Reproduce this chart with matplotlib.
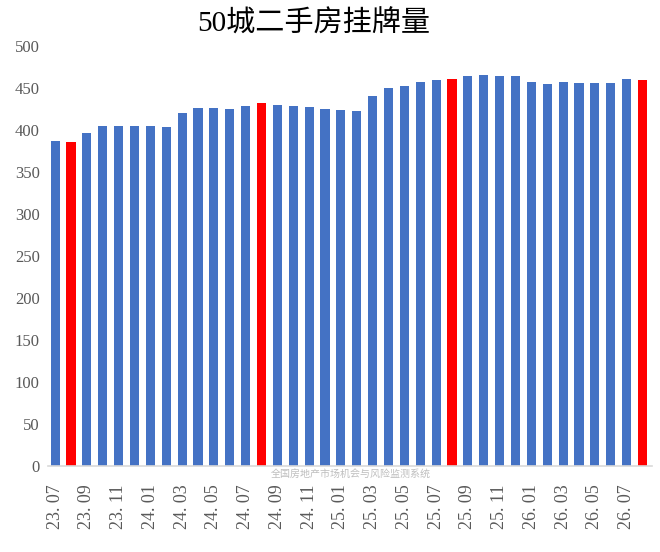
import matplotlib
matplotlib.use("Agg")
import matplotlib.pyplot as plt
import numpy as np

# months 23.07 .. 26.08
months = []
for y, m in [(23, m) for m in range(7, 13)] + [(24, m) for m in range(1, 13)] + \
        [(25, m) for m in range(1, 13)] + [(26, m) for m in range(1, 9)]:
    months.append("%02d.%02d" % (y, m))

values = [387, 386, 396, 405, 405, 405, 405, 404, 420, 426,
          426, 425, 428, 432, 430, 428, 427, 425, 424, 423,
          441, 450, 452, 457, 459, 461, 464, 465, 464, 464,
          457, 455, 457, 456, 456, 456, 461, 460]

red_months = ["23.08", "24.08", "25.08", "26.08"]

blue = "#4472C4"
red = "#FF0000"
grey = "#595959"

colors = [red if m in red_months else blue for m in months]
x = np.arange(len(months))

fig = plt.figure(figsize=(6.6, 5.52), dpi=100)
ax = fig.add_axes([48 / 660, 86 / 552, 604 / 660, 420 / 552])
ax.bar(x, values, width=0.57, color=colors, zorder=2)

ax.set_ylim(0, 500)
ax.set_yticks(np.arange(0, 501, 50))
ax.set_xlim(-0.45, len(months) - 0.4)
ax.set_xticks(x[::2])
ax.set_xticklabels([m.replace(".", ". ") for m in months[::2]], rotation=90,
                   fontsize=13, color=grey, family=["Liberation Serif", "DejaVu Serif"])
for lab in ax.get_yticklabels():
    lab.set_family(["Liberation Serif", "DejaVu Serif"])
    lab.set_fontsize(12)
    lab.set_color(grey)
ax.tick_params(axis="x", length=0, pad=13)
ax.tick_params(axis="y", length=0, pad=6)

for s in ["top", "right", "left"]:
    ax.spines[s].set_visible(False)
ax.spines["bottom"].set_color("#D9D9D9")
ax.spines["bottom"].set_linewidth(1.2)

fig.text(0.475, 0.958, "50城二手房挂牌量", ha="center", va="center", fontsize=21,
         family=["Liberation Serif", "Noto Sans CJK SC"], color="black")
fig.text(0.532, 0.141, "全国房地产市场机会与风险监测系统", ha="center", va="center",
         fontsize=7.2, color="#BFBFBF", family=["Noto Sans CJK SC"])

fig.savefig("out.png", dpi=100)
